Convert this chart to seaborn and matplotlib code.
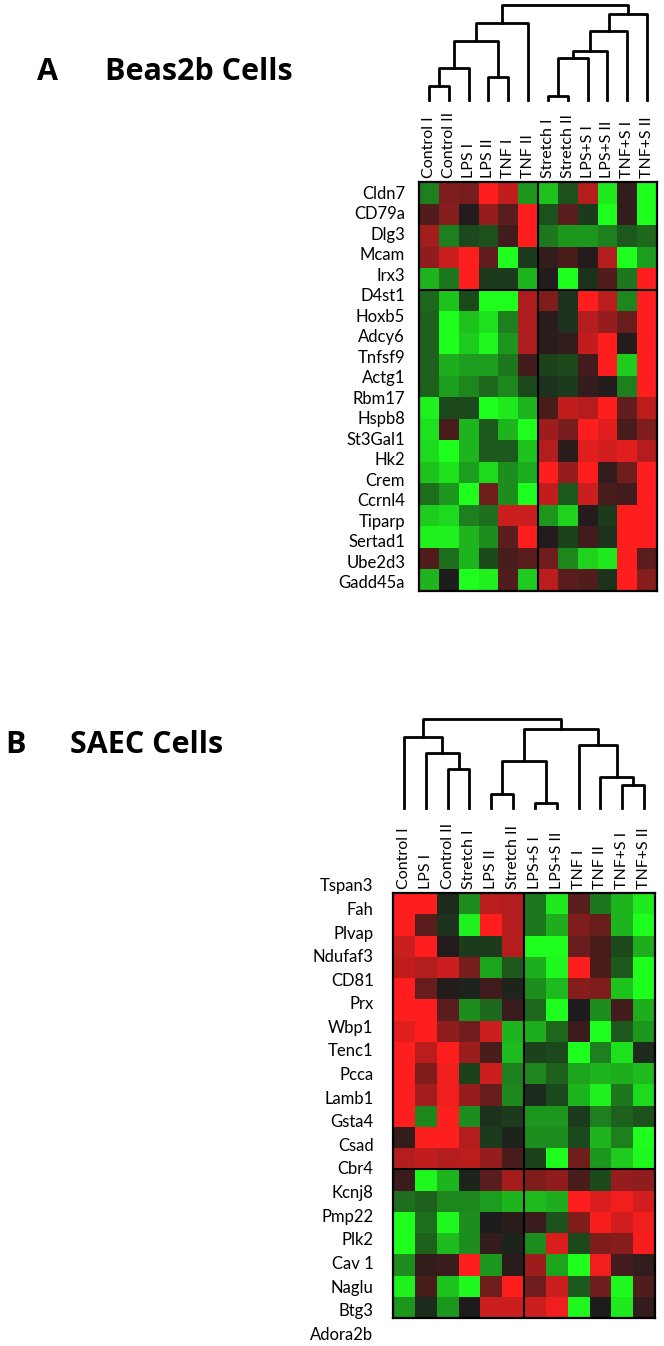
import numpy as np
import pandas as pd
import matplotlib
matplotlib.use("Agg")
import matplotlib.pyplot as plt
import seaborn as sns
from matplotlib.colors import LinearSegmentedColormap

sns.set_style("white")
plt.rcParams['font.family'] = ['Lato', 'DejaVu Sans']
plt.rcParams['text.color'] = 'black'
plt.rcParams['xtick.color'] = 'black'
plt.rcParams['ytick.color'] = 'black'

# ---------------- Panel A data ----------------
cols_A = ["Control I", "Control II", "LPS I", "LPS II", "TNF I", "TNF II",
          "Stretch I", "Stretch II", "LPS+S I", "LPS+S II", "TNF+S I", "TNF+S II"]
genes_A = ["Cldn7", "CD79a", "Dlg3", "Mcam", "Irx3", "D4st1", "Hoxb5", "Adcy6",
           "Tnfsf9", "Actg1", "Rbm17", "Hspb8", "St3Gal1", "Hk2", "Crem", "Ccrnl4",
           "Tiparp", "Sertad1", "Ube2d3", "Gadd45a"]
values_A = [
    [-1.3, 1.3, 1.2, 3.0, 2.2, -1.6, -2.2, -0.7, 2.0, -2.7, 0.3, -3.0],
    [0.7, 1.4, 0.1, 1.6, 0.8, 3.0, -0.7, 0.8, -0.4, -3.0, 0.3, -3.0],
    [1.8, -1.3, -0.6, -0.7, 0.5, 3.0, -1.2, -1.6, -1.6, -1.3, -0.8, -1.0],
    [1.5, 2.3, 3.0, 0.9, -3.0, -0.4, 0.3, 0.6, 0.1, 2.0, -3.0, -1.7],
    [-2.0, -1.2, 3.0, -0.4, -0.4, -2.0, 0.1, -3.0, -0.3, 0.7, -1.2, 3.0],
    [-1.0, -2.2, -0.6, -3.0, -3.0, 1.9, 1.3, -0.3, 3.0, 2.1, -1.4, 3.0],
    [-0.9, -3.0, -2.2, -2.6, -1.3, 1.9, 0.2, -0.3, 2.0, 1.6, 1.0, 3.0],
    [-0.9, -3.0, -2.3, -2.9, -1.6, 1.9, 0.2, 0.3, 2.2, 3.0, 0.1, 3.0],
    [-0.9, -1.9, -1.7, -1.7, -1.2, 0.5, -0.5, -0.6, 0.5, 3.0, -2.3, 3.0],
    [-0.9, -1.7, -1.4, -1.0, -1.4, -0.6, -0.3, -0.4, 0.3, 0.1, -1.3, 3.0],
    [-2.8, -0.6, -0.6, -3.0, -2.7, -2.0, 0.6, 2.2, 2.0, 3.0, 0.9, 2.1],
    [-2.6, 0.6, -2.0, -0.8, -2.0, -3.0, 1.7, 1.2, 3.0, 2.6, 0.6, 1.3],
    [-2.5, -3.0, -2.0, -0.8, -0.8, -2.2, 2.0, 0.2, 2.6, 2.4, 2.6, 2.0],
    [-2.2, -2.6, -1.7, -2.5, -1.5, -1.9, 3.0, 1.6, 3.0, 0.3, 1.1, 3.0],
    [-1.1, -1.6, -3.0, 1.1, -1.5, -3.0, 2.2, -0.8, 2.3, 0.6, 0.5, 3.0],
    [-2.3, -2.5, -1.3, -1.1, 2.3, 2.3, -1.6, -2.4, 0.1, -0.4, 3.0, 3.0],
    [-2.8, -2.8, -2.0, -1.5, 0.8, 3.0, 0.1, -0.5, 0.5, -0.3, 3.0, 3.0],
    [0.7, -1.1, -2.0, -0.6, 0.6, 0.8, 1.1, -1.4, -2.4, -2.7, 3.0, 0.8],
    [-2.0, 0.0, -3.0, -2.8, 0.7, -2.3, 2.1, 0.8, 0.7, -0.3, 3.0, 1.4],
]
# dendrogram merges (left, right, height); leaves are column indices
links_A = [(6, 7, 4), (0, 1, 14), (3, 4, 23), (13, 2, 32), (12, 8, 42), (16, 9, 49),
           (15, 14, 59), (17, 10, 69), (18, 5, 77), (19, 11, 86), (20, 21, 95)]
hsplit_A = 5
vsplit_A = 6

# ---------------- Panel B data ----------------
cols_B = ["Control I", "LPS I", "Control II", "Stretch I", "LPS II", "Stretch II",
          "LPS+S I", "LPS+S II", "TNF I", "TNF II", "TNF+S I", "TNF+S II"]
genes_B = ["Tspan3", "Fah", "Plvap", "Ndufaf3", "CD81", "Prx", "Wbp1", "Tenc1",
           "Pcca", "Lamb1", "Gsta4", "Csad", "Cbr4", "Kcnj8", "Pmp22", "Plk2",
           "Cav 1", "Naglu", "Btg3", "Adora2b"]
values_B = [
    [3.0, 3.0, -0.2, -1.5, 2.1, 2.0, -1.2, -2.7, 0.8, -1.2, -2.0, -2.7],
    [3.0, 0.8, -0.3, -2.8, 3.0, 2.0, -1.2, -1.9, 1.3, 1.0, -2.0, -3.0],
    [2.3, 3.0, 0.1, -0.4, -0.4, 2.0, -3.0, -3.0, 1.0, 0.6, -0.6, -1.9],
    [2.2, 2.0, 2.3, 1.2, -1.8, -0.8, -1.9, -2.9, 3.0, 0.6, -0.8, -3.0],
    [3.0, 1.0, 0.1, -0.1, 0.5, -0.1, -1.5, -2.1, 1.4, 1.3, -2.2, -3.0],
    [3.0, 3.0, 0.8, -1.5, -1.0, 0.4, -1.0, -3.0, 0.0, -1.5, 0.5, -1.9],
    [2.6, 3.0, 1.5, 1.1, 2.3, -2.0, -1.9, -1.0, 0.4, -3.0, -0.8, -1.6],
    [3.0, 2.1, 3.0, 1.7, 0.6, -2.1, -0.5, -0.6, -3.0, -1.3, -2.6, -0.2],
    [3.0, 1.3, 2.8, -0.5, 2.3, -1.3, -1.4, -0.9, -1.8, -2.0, -1.9, -2.1],
    [3.0, 1.8, 2.8, 1.6, 1.0, -1.4, -0.2, -0.6, -2.0, -2.8, -1.2, -2.5],
    [3.0, -1.4, 3.0, -1.5, -0.3, -0.4, -1.6, -1.6, -0.4, -1.3, -0.9, -0.7],
    [0.3, 3.0, 3.0, 2.0, -0.4, -0.1, -1.5, -1.5, -0.6, -2.0, -1.3, -3.0],
    [2.0, 2.2, 2.0, 2.1, 1.6, 0.6, -0.5, -3.0, 1.1, -1.6, -2.3, -2.9],
    [0.4, -2.9, -2.0, -0.1, 0.8, 1.8, 1.3, 1.5, 0.6, -0.6, 1.6, 1.5],
    [-1.1, -0.9, -1.4, -1.4, -1.7, -2.0, -2.1, -1.9, 3.0, 2.5, 2.8, 2.4],
    [-3.0, -1.1, -2.9, -1.5, 0.0, 0.2, 0.4, -0.7, 1.3, 2.9, 2.4, 2.8],
    [-3.0, -0.9, -2.1, -1.5, 0.3, -0.1, -1.5, 2.5, -0.6, 1.3, 1.4, 2.9],
    [-1.5, 0.3, 0.4, 3.0, -1.6, 0.2, 1.7, -1.8, -3.0, 2.8, 0.5, 0.3],
    [-2.8, 0.6, -2.2, -2.9, 1.1, 3.0, 1.1, 2.3, -0.8, 1.1, -2.9, 0.7],
    [-1.6, -0.2, -1.6, 0.0, 2.3, 2.3, 2.3, 2.8, -2.9, 0.0, -2.7, 0.3],
]
links_B = [(6, 7, 5), (4, 5, 14), (10, 11, 23), (9, 14, 31), (2, 3, 39), (13, 12, 47),
           (1, 16, 55), (8, 15, 63), (0, 18, 71), (17, 19, 79), (20, 21, 89)]
hsplit_B = 13
vsplit_B = 6

cmap = LinearSegmentedColormap.from_list(
    "rg", [(0.0, "#1EFF1E"), (0.5, "#1C1C1C"), (1.0, "#FF1E1E")])

W, H = 664, 1346
fig = plt.figure(figsize=(W / 100, H / 100), dpi=100)


def fax(x0, y0, x1, y1):
    """axes from pixel box (top-left origin)"""
    return fig.add_axes([x0 / W, 1 - y1 / H, (x1 - x0) / W, (y1 - y0) / H])


def draw_dendro(ax, links, n, top):
    xpos = {i: i + 0.5 for i in range(n)}
    hgt = {i: 0.0 for i in range(n)}
    for k, (a, b, h) in enumerate(links):
        node = n + k
        xa, xb = xpos[a], xpos[b]
        ax.plot([xa, xa, xb, xb], [hgt[a], h, h, hgt[b]], color="black",
                lw=2.0, solid_capstyle="projecting", clip_on=False)
        xpos[node] = (xa + xb) / 2
        hgt[node] = h
    ax.set_xlim(0, n)
    ax.set_ylim(0, top)
    ax.axis("off")


def panel(values, cols, genes, links, hs, vs, hm_box, lab_box, den_box, top, lab_pad):
    df = pd.DataFrame(values, columns=cols)
    ax = fax(*hm_box)
    sns.heatmap(df, ax=ax, cmap=cmap, vmin=-3, vmax=3, cbar=False,
                xticklabels=cols, yticklabels=False)
    ax.xaxis.tick_top()
    ax.tick_params(axis="x", length=0, pad=3, labelsize=11.5, rotation=90)
    for lbl in ax.get_xticklabels():
        lbl.set_rotation(90)
        lbl.set_va("bottom")
    ax.axhline(hs, color="black", lw=1.5)
    ax.axvline(vs, color="black", lw=1.5)
    for s in ax.spines.values():
        s.set_visible(True)
        s.set_color("black")
        s.set_linewidth(1.6)
    # gene labels
    axl = fax(*lab_box)
    axl.set_ylim(len(genes), 0)
    axl.set_yticks(np.arange(len(genes)) + 0.5)
    axl.set_yticklabels(genes, fontsize=12)
    axl.set_xticks([])
    axl.tick_params(axis="y", length=0, pad=lab_pad)
    axl.patch.set_alpha(0)
    for s in axl.spines.values():
        s.set_visible(False)
    # dendrogram
    axd = fax(*den_box)
    draw_dendro(axd, links, len(cols), top)


panel(values_A, cols_A, genes_A, links_A, hsplit_A, vsplit_A,
      (419, 182, 657, 591), (419, 182, 657, 592), (419, 5, 657, 100), 95, 10)
panel(values_B, cols_B, genes_B, links_B, hsplit_B, vsplit_B,
      (393, 893, 655, 1318), (393, 873, 655, 1345), (393, 719, 655, 808), 89, 14)

tfont = dict(fontsize=22, fontweight="bold", va="center", ha="left",
             family=["Open Sans", "DejaVu Sans"])
fig.text(37 / W, 1 - 72 / H, "A", **tfont)
fig.text(105 / W, 1 - 72 / H, "Beas2b Cells", **tfont)
fig.text(5 / W, 1 - 745 / H, "B", **tfont)
fig.text(70 / W, 1 - 745 / H, "SAEC Cells", **tfont)

fig.savefig("out.png", dpi=100, facecolor="white")
